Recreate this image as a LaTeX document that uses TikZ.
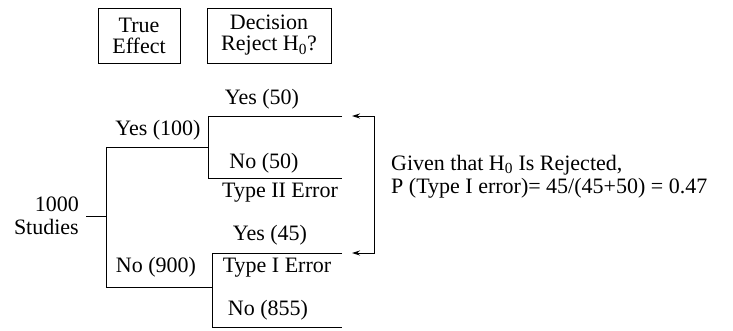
\documentclass[tikz,border=0pt]{standalone}
\usepackage{fontspec}
\setmainfont{Liberation Serif}
\usetikzlibrary{arrows.meta}
\begin{document}
\begin{tikzpicture}[x=1pt,y=-1pt,
  lbl/.style={inner sep=0pt, font=\fontsize{22}{23}\selectfont},
  hdr/.style={draw, line width=0.9pt, minimum height=55pt, inner sep=0pt, align=center, font=\fontsize{22}{21}\selectfont},
  br/.style={line width=0.9pt},
  ar/.style={line width=0.9pt, {Stealth[length=8pt,width=5pt]}-{Stealth[length=8pt,width=5pt]}}]
\useasboundingbox (0,0) rectangle (733,330);
% header boxes
\node[hdr, minimum width=82pt] (te) at (139,35.5) {True\\Effect};
\node[hdr, minimum width=124pt] (dec) at (269,35.5) {Decision\\Reject H\textsubscript{0}?};
% tree coordinates
\coordinate (r0) at (86,216);
\coordinate (r1) at (106,216);
\coordinate (ya) at (106,147);
\coordinate (na) at (106,287);
\coordinate (yb) at (208,147);
\coordinate (nb) at (212,287);
\coordinate (u1) at (342,116);
\coordinate (u0) at (208,116);
\coordinate (v0) at (208,178);
\coordinate (v1) at (342,178);
\coordinate (w1) at (342,253);
\coordinate (w0) at (212,253);
\coordinate (z0) at (212,327);
\coordinate (z1) at (342,327);
\coordinate (t1) at (352,116);
\coordinate (c1) at (374,116);
\coordinate (c2) at (374,253);
\coordinate (t2) at (352,253);
% root label
\node[lbl, anchor=east, align=right] (root) at (79,216) {1000\\Studies};
% branches
\draw[br] (r0) -- (r1);
\draw[br] (yb) -- (ya) -- (na) -- (nb);
\draw[br] (u1) -- (u0) -- (v0) -- (v1);
\draw[br] (w1) -- (w0) -- (z0) -- (z1);
\draw[ar] (t1) -- (c1) -- (c2) -- (t2);
% labels
\node[lbl] (y50) at (262,99) {Yes (50)};
\node[lbl] (y100) at (158,130) {Yes (100)};
\node[lbl] (n50) at (264,163) {No (50)};
\node[lbl] (t2e) at (280,193) {Type II Error};
\node[lbl] (y45) at (270,235) {Yes (45)};
\node[lbl] (t1e) at (277,268) {Type I Error};
\node[lbl] (n900) at (156,267) {No (900)};
\node[lbl] (n855) at (268,310) {No (855)};
\node[lbl, anchor=west, align=left] (note) at (391,176.5) {Given that H\textsubscript{0} Is Rejected,\\P (Type I error)= 45/(45+50) = 0.47};
\end{tikzpicture}
\end{document}
